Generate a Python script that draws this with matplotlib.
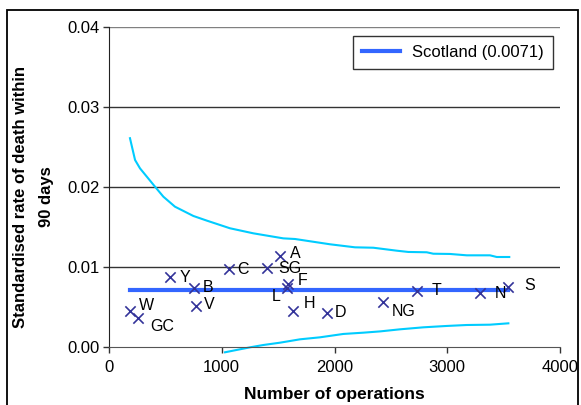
import matplotlib
matplotlib.use("Agg")
import matplotlib.pyplot as plt
from matplotlib.patches import Rectangle

plt.rcParams['font.family'] = ['Liberation Sans', 'DejaVu Sans']

# Hospitals: number of operations and standardised rate
labels = ["W", "GC", "Y", "B", "V", "C", "SG", "A", "F", "L", "H", "D", "NG", "T", "N", "S"]
ops = [186, 260, 541, 757, 769, 1064, 1404, 1520, 1591, 1582, 1629, 1930, 2433, 2734, 3290, 3542]
rates = [0.00454, 0.00358, 0.00871, 0.00740, 0.00513, 0.00971, 0.00983, 0.01137,
         0.00783, 0.00733, 0.00454, 0.00429, 0.00567, 0.00704, 0.00671, 0.00754]
# label offsets in points (dx, dy)
label_dx = [12, 17, 11, 10, 10, 10, 16, 11, 10, -8, 12, 10, 15, 14, 15, 15]
label_dy = [4, -6, 0, 0, 1, 0, 0, 2, 3, -6, 5, 0, -7, 0, 0, 1]

scotland_rate = 0.0071
scotland_x = [186, 3542]

upper_x = [186, 231, 275, 408, 482, 585, 748, 867, 1073, 1280, 1546, 1650, 1960, 2182,
           2344, 2552, 2655, 2818, 2876, 3024, 3173, 3379, 3439, 3550]
upper_y = [0.0261, 0.02338, 0.02233, 0.02004, 0.01879, 0.01754, 0.01638, 0.0158, 0.01484,
           0.01421, 0.01358, 0.0135, 0.01284, 0.01246, 0.01241, 0.01204, 0.01188, 0.01184,
           0.01166, 0.01163, 0.01146, 0.01146, 0.01125, 0.01125]
lower_x = [1029, 1132, 1251, 1369, 1517, 1694, 1871, 2078, 2255, 2404, 2581, 2788, 2995,
           3173, 3379, 3542]
lower_y = [-0.00066, -0.00037, -0.00004, 0.00025, 0.00054, 0.00096, 0.00121, 0.00163,
           0.00179, 0.00195, 0.00221, 0.00246, 0.00263, 0.00275, 0.00279, 0.00296]

xticks = [0, 1000, 2000, 3000, 4000]
yticks = [0.00, 0.01, 0.02, 0.03, 0.04]

W, H = 581, 405
fig = plt.figure(figsize=(W / 100, H / 100), dpi=100)
fig.patch.set_facecolor("white")

# outer chart frame
fig.add_artist(Rectangle((7 / W, -0.05), (578 - 7) / W, 1.05 - 10 / H,
                         transform=fig.transFigure, fill=False, edgecolor="black", lw=1.3))

ax = fig.add_axes([109 / W, 1 - 347 / H, (560 - 109) / W, (347 - 27) / H])
ax.set_xlim(0, 4000)
ax.set_ylim(0, 0.04)
ax.set_xticks(xticks)
ax.set_yticks(yticks)
ax.set_xticklabels([str(t) for t in xticks], fontsize=12)
ax.set_yticklabels([f"{t:.2f}" for t in yticks], fontsize=12)

for y in yticks[1:]:
    ax.axhline(y, color="#333333" if y < 0.04 else "#808080", lw=1.0, zorder=0)

for s in ["top", "right"]:
    ax.spines[s].set_visible(False)
ax.spines["left"].set_color("#222222")
ax.spines["bottom"].set_color("#555555")
ax.tick_params(axis="both", direction="out", length=4, width=1, colors="#333333",
               labelcolor="black")
ax.tick_params(axis="x", pad=5)
ax.tick_params(axis="y", pad=3)

ax.plot(upper_x, upper_y, color="#00CCFF", lw=1.5, clip_on=False, zorder=2)
ax.plot(lower_x, lower_y, color="#00CCFF", lw=1.5, clip_on=False, zorder=2)
ax.plot(scotland_x, [scotland_rate, scotland_rate], color="#3366FF", lw=3,
        label=f"Scotland ({scotland_rate:.4f})", zorder=3)
ax.scatter(ops, rates, marker="x", s=55, color="#333399", linewidths=1.2, zorder=4)
for lab, x, y, dx, dy in zip(labels, ops, rates, label_dx, label_dy):
    ax.annotate(lab, (x, y), xytext=(dx, dy), textcoords="offset points",
                fontsize=11.5, ha="center", va="center", color="black", zorder=5)

leg = ax.legend(loc="upper right", bbox_to_anchor=(553 / W, 1 - 36 / H),
                bbox_transform=fig.transFigure, fontsize=12, frameon=True,
                fancybox=False, handlelength=2.3, borderpad=0.55, handletextpad=0.7,
                borderaxespad=0)
leg.get_frame().set_edgecolor("black")
leg.get_frame().set_linewidth(1.0)

ax.set_xlabel("Number of operations", fontsize=12.5, fontweight="bold", labelpad=9)
fig.text(21 / W, 1 - 197 / H, "Standardised rate of death within", rotation=90,
         fontsize=12, fontweight="bold", ha="center", va="center")
fig.text(46 / W, 1 - 197 / H, "90 days", rotation=90,
         fontsize=12, fontweight="bold", ha="center", va="center")

fig.savefig("out.png", dpi=100)
